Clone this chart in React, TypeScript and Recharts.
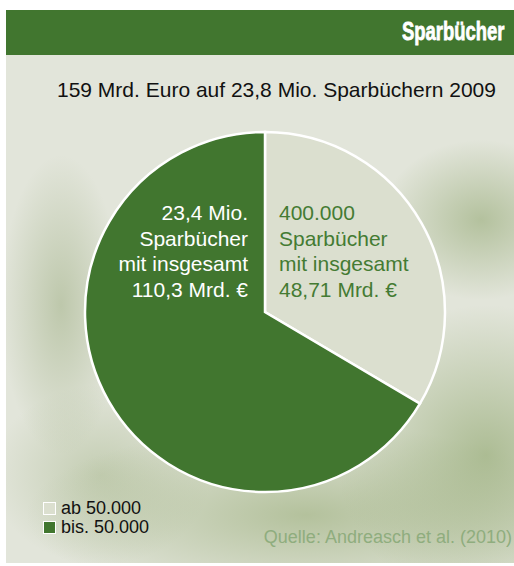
import { PieChart, Pie, Cell, Legend } from 'recharts';

// Slice shares as drawn in the picture (light slice spans ~121 degrees)
const categories = ['ab 50.000', 'bis. 50.000'];
const shares = [33.5, 66.5];
const sliceColors = ['#dbdfcf', '#41762f'];
const labelLines = [
    ['400.000', 'Sparbücher', 'mit insgesamt', '48,71 Mrd. €'],
    ['23,4 Mio.', 'Sparbücher', 'mit insgesamt', '110,3 Mrd. €'],
];
const labelColors = ['#447b33', '#ffffff'];

const pieData = categories.map((name, i) => ({ name, value: shares[i] }));

const FONT = "'Liberation Sans', Arial, sans-serif";

const renderLabel = (props: any) => {
    const { cx, cy, index } = props;
    const left = index === 1;
    return (
        <text
            x={left ? cx - 17 : cx + 14}
            y={cy - 92}
            textAnchor={left ? 'end' : 'start'}
            fill={labelColors[index]}
            fontSize={21}
            fontFamily={FONT}
        >
            {labelLines[index].map((line, i) => (
                <tspan key={i} x={left ? cx - 17 : cx + 14} dy={i === 0 ? 0 : 25.7}>{line}</tspan>
            ))}
        </text>
    );
};

const renderLegend = (props: any) => {
    const { payload } = props;
    return (
        <div style={{ fontFamily: FONT, fontSize: 18, color: '#111' }}>
            {payload.map((entry: any, i: number) => (
                <div key={i} style={{ display: 'flex', alignItems: 'center', height: 19 }}>
                    <span style={{ display: 'inline-block', width: 11, height: 11, background: sliceColors[categories.indexOf(entry.value)], border: '1px solid #fff', marginRight: 5 }} />
                    <span>{entry.value}</span>
                </div>
            ))}
        </div>
    );
};

export default function App() {
    return (
        <div style={{ position: 'absolute', left: 0, top: 0, width: 514, height: 566, background: '#fff', overflow: 'hidden' }}>
            {/* mottled panel background */}
            <div style={{
                position: 'absolute', left: 6, top: 55, width: 508, height: 508,
                background: [
                    'radial-gradient(ellipse 60px 150px at 55px 250px, rgba(165,180,140,0.6), rgba(165,180,140,0) 100%)',
                    'radial-gradient(ellipse 100px 80px at 475px 165px, rgba(160,178,132,0.7), rgba(160,178,132,0) 100%)',
                    'radial-gradient(ellipse 150px 150px at 480px 400px, rgba(155,175,125,0.75), rgba(155,175,125,0) 100%)',
                    'radial-gradient(ellipse 280px 90px at 300px 460px, rgba(160,178,130,0.7), rgba(160,178,130,0) 100%)',
                    'radial-gradient(ellipse 110px 90px at 95px 420px, rgba(170,185,145,0.55), rgba(170,185,145,0) 100%)',
                    '#e2e5da',
                ].join(', '),
            }} />
            {/* header bar */}
            <div style={{ position: 'absolute', left: 6, top: 10, width: 508, height: 45, background: '#41762f' }} />
            <div style={{ position: 'absolute', right: 10, top: 18, lineHeight: '26px', fontSize: 26, fontWeight: 700, color: '#fff', fontFamily: FONT, whiteSpace: 'nowrap', transform: 'scaleX(0.71)', transformOrigin: 'right center', WebkitTextStroke: '0.8px #fff' }}>
                Sparbücher
            </div>
            <div style={{ position: 'absolute', left: 57, top: 79, lineHeight: '21px', fontSize: 21, color: '#111', fontFamily: FONT, whiteSpace: 'nowrap' }}>
                159 Mrd. Euro auf 23,8 Mio. Sparbüchern 2009
            </div>
            <div style={{ position: 'absolute', right: 2, top: 528, lineHeight: '18px', fontSize: 18, color: '#8fad7e', fontFamily: FONT, whiteSpace: 'nowrap' }}>
                Quelle: Andreasch et al. (2010)
            </div>
            <div style={{ position: 'absolute', left: 0, top: 0 }}>
                <PieChart width={514} height={566} margin={{ top: 0, right: 0, bottom: 0, left: 0 }}>
                    <Pie
                        data={pieData}
                        dataKey="value"
                        nameKey="name"
                        cx={265}
                        cy={312}
                        innerRadius={0}
                        outerRadius={180}
                        startAngle={90}
                        endAngle={-270}
                        stroke="#ffffff"
                        strokeWidth={2.5}
                        label={renderLabel}
                        labelLine={false}
                        isAnimationActive={false}
                    >
                        {pieData.map((entry, i) => (
                            <Cell key={entry.name} fill={sliceColors[i]} />
                        ))}
                    </Pie>
                    <Legend
                        content={renderLegend}
                        layout="vertical"
                        wrapperStyle={{ position: 'absolute', left: 43, top: 499, width: 'auto' }}
                    />
                </PieChart>
            </div>
        </div>
    );
}
